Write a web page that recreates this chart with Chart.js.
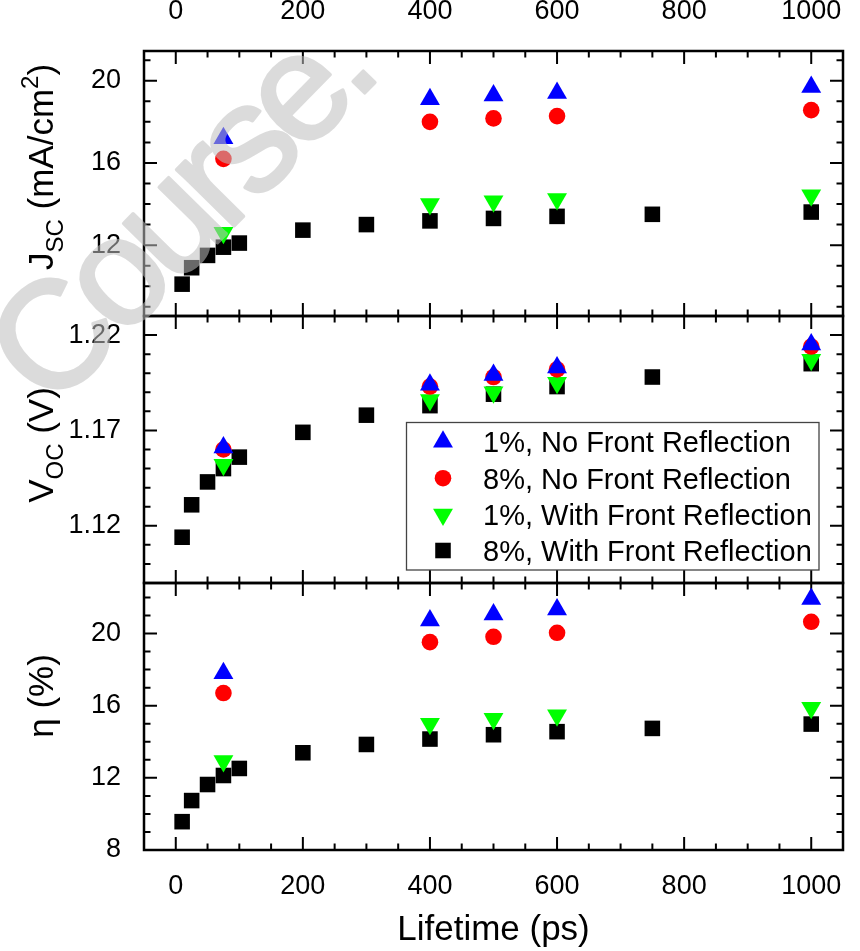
<!DOCTYPE html>
<html>
<head>
<meta charset="utf-8">
<title>Lifetime dependence</title>
<script src="https://cdn.jsdelivr.net/npm/chart.js@4.4.1/dist/chart.umd.min.js"></script>
<style>
  body { margin: 0; background: #fff; }
  #wrap { position: relative; width: 860px; height: 951px; }
  #wrap canvas { position: absolute; left: 0; top: 0; }
  #mark { opacity: 0.55; }
</style>
</head>
<body>
<div id="wrap">
  <canvas id="jscChart" width="860" height="951"></canvas>
  <canvas id="vocChart" width="860" height="951"></canvas>
  <canvas id="etaChart" width="860" height="951"></canvas>
  <canvas id="mark" width="860" height="951"></canvas>
</div>
<script>
// lifetimes (ps)
const lifeAll = [10, 25, 50, 75, 100, 200, 300, 400, 500, 600, 750, 1000];
const lifeSel = [75, 400, 500, 600, 1000];

const seriesNames = ['1%, No Front Reflection', '8%, No Front Reflection',
                     '1%, With Front Reflection', '8%, With Front Reflection'];

// Jsc (mA/cm2)
const jsc1NoFR   = [17.2, 19.1, 19.28, 19.4, 19.7];
const jsc8NoFR   = [16.2, 18.0, 18.17, 18.28, 18.57];
const jsc1WithFR = [12.6, 14.0, 14.13, 14.24, 14.43];
const jsc8WithFR = [10.1, 10.9, 11.5, 11.9, 12.1, 12.73, 13.0, 13.18, 13.3, 13.4, 13.5, 13.61];

// Voc (V)
const voc1NoFR   = [1.161, 1.194, 1.199, 1.203, 1.215];
const voc8NoFR   = [1.160, 1.193, 1.198, 1.202, 1.214];
const voc1WithFR = [1.152, 1.186, 1.190, 1.195, 1.207];
const voc8WithFR = [1.114, 1.131, 1.143, 1.150, 1.156, 1.169, 1.178, 1.183, 1.189, 1.193, 1.198, 1.205];

// efficiency (%)
const eta1NoFR   = [17.8, 20.72, 21.05, 21.33, 21.92];
const eta8NoFR   = [16.7, 19.52, 19.82, 20.04, 20.65];
const eta1WithFR = [12.93, 15.0, 15.28, 15.47, 15.89];
const eta8WithFR = [9.57, 10.74, 11.63, 12.13, 12.52, 13.39, 13.85, 14.15, 14.39, 14.56, 14.74, 14.98];

// tick labels
const xTickLabels = ['0', '200', '400', '600', '800', '1000'];
const jscTickLabels = ['12', '16', '20'];
const vocTickLabels = ['1.12', '1.17', '1.22'];
const etaTickLabels = ['8', '12', '16', '20'];

const FONT = '"Liberation Sans", Arial, Helvetica, sans-serif';
const colors = ['#0000ff', '#ff0000', '#00ff00', '#000000'];
const markers = [
  { style: 'triangle', radius: 11.5, rotation: 0 },
  { style: 'circle', radius: 8.3, rotation: 0 },
  { style: 'triangle', radius: 11.5, rotation: 180 },
  { style: 'rect', radius: 11, rotation: 0 }
];

function pts(xs, ys) {
  return ys.map((v, i) => ({ x: xs[i], y: v }));
}

function makeDatasets(series) {
  return series.map((vals, i) => ({
    label: seriesNames[i],
    data: pts(i === 3 ? lifeAll : lifeSel, vals),
    pointStyle: markers[i].style,
    pointRadius: markers[i].radius,
    pointHoverRadius: markers[i].radius,
    pointRotation: markers[i].rotation,
    backgroundColor: colors[i],
    borderColor: colors[i],
    borderWidth: 0
  }));
}

// multiples of step inside [min, max]
function stepValues(min, max, step) {
  const out = [];
  for (let k = Math.ceil(min / step - 1e-6); k * step <= max + step * 1e-6; k++) {
    out.push(+(k * step).toFixed(6));
  }
  return out;
}

// inward ticks on all four sides plus the frame and the rotated y title
function panelDecor(cfg) {
  return {
    id: 'panelDecor',
    beforeDatasetsDraw(chart) {
      const { ctx, chartArea: a, scales: { x, y } } = chart;
      const xMajor = xTickLabels.map(Number);
      const yMajor = cfg.yLabels.map(Number);
      ctx.save();
      ctx.strokeStyle = '#000';
      ctx.lineWidth = 2;
      ctx.beginPath();
      stepValues(x.min, x.max, 50).forEach(v => {
        const px = x.getPixelForValue(v);
        if (px < a.left + 2 || px > a.right - 2) return;
        const len = xMajor.some(t => Math.abs(t - v) < 1e-6) ? 13 : 6.5;
        ctx.moveTo(px, a.top); ctx.lineTo(px, a.top + len);
        ctx.moveTo(px, a.bottom); ctx.lineTo(px, a.bottom - len);
      });
      stepValues(y.min, y.max, cfg.yMinor).forEach(v => {
        const py = y.getPixelForValue(v);
        if (py < a.top + 2 || py > a.bottom - 2) return;
        const len = yMajor.some(t => Math.abs(t - v) < cfg.yMinor / 100) ? 13 : 6.5;
        ctx.moveTo(a.left, py); ctx.lineTo(a.left + len, py);
        ctx.moveTo(a.right, py); ctx.lineTo(a.right - len, py);
      });
      ctx.stroke();
      ctx.lineWidth = 2.5;
      ctx.strokeRect(a.left, a.top, a.right - a.left, a.bottom - a.top);

      // y title, written bottom to top with sub/superscripts
      const sizes = { n: 35, sub: 24, sup: 24 };
      const shift = { n: 0, sub: 10, sup: -15 };
      ctx.translate(53, cfg.titleY);
      ctx.rotate(-Math.PI / 2);
      ctx.fillStyle = '#000';
      ctx.textBaseline = 'alphabetic';
      let w = 0;
      cfg.title.forEach(([t, k]) => { ctx.font = sizes[k] + 'px ' + FONT; w += ctx.measureText(t).width; });
      let pos = -w / 2;
      cfg.title.forEach(([t, k]) => {
        ctx.font = sizes[k] + 'px ' + FONT;
        ctx.fillText(t, pos, shift[k]);
        pos += ctx.measureText(t).width;
      });
      ctx.restore();
    }
  };
}

const legendBox = {
  id: 'legendBox',
  afterDraw(chart) {
    const ctx = chart.ctx;
    const rows = [441.7, 478.2, 514.6, 550.5];
    ctx.save();
    ctx.strokeStyle = '#444';
    ctx.lineWidth = 1.3;
    ctx.strokeRect(406.5, 422.5, 412.5, 147.5);
    ctx.font = '29px ' + FONT;
    ctx.textBaseline = 'alphabetic';
    chart.data.datasets.forEach((ds, i) => {
      ctx.fillStyle = colors[i];
      ctx.strokeStyle = colors[i];
      Chart.helpers.drawPoint(ctx, {
        pointStyle: markers[i].style,
        radius: markers[i].radius,
        rotation: markers[i].rotation,
        borderWidth: 0
      }, 443, rows[i]);
      ctx.fillStyle = '#000';
      ctx.fillText(ds.label, 483, rows[i] + 10.4);
    });
    ctx.restore();
  }
};

function makePanel(cfg) {
  const xOpts = {
    type: 'linear',
    min: -50,
    max: 1050,
    display: !!cfg.xPos,
    position: cfg.xPos || 'bottom',
    grid: { display: false },
    border: { display: false },
    afterBuildTicks: s => { s.ticks = xTickLabels.map(v => ({ value: Number(v) })); },
    afterFit: s => { if (cfg.xHeight) s.height = cfg.xHeight; },
    ticks: {
      font: { size: 27, family: FONT },
      color: '#000',
      padding: cfg.xPos === 'top' ? 15 : 12,
      maxRotation: 0,
      autoSkip: false,
      callback: (v, i) => xTickLabels[i]
    },
    title: {
      display: !!cfg.xTitle,
      text: cfg.xTitle || '',
      font: { size: 35, family: FONT },
      color: '#000',
      padding: { top: 0, bottom: 0 }
    }
  };
  return new Chart(document.getElementById(cfg.id), {
    type: 'scatter',
    data: { datasets: makeDatasets(cfg.series) },
    options: {
      responsive: false,
      animation: false,
      devicePixelRatio: 1,
      layout: { padding: { top: cfg.padTop, bottom: cfg.padBottom, left: 0, right: 17 } },
      plugins: { legend: { display: false }, tooltip: { enabled: false } },
      scales: {
        x: xOpts,
        y: {
          type: 'linear',
          min: cfg.yMin,
          max: cfg.yMax,
          grid: { display: false },
          border: { display: false },
          afterBuildTicks: s => { s.ticks = cfg.yLabels.map(v => ({ value: Number(v) })); },
          afterFit: s => { s.width = 144; },
          ticks: {
            font: { size: 27, family: FONT },
            color: '#000',
            padding: 15,
            callback: (v, i) => cfg.yLabels[i]
          }
        }
      }
    },
    plugins: [panelDecor(cfg)].concat(cfg.legend ? [legendBox] : [])
  });
}

makePanel({
  id: 'jscChart', series: [jsc1NoFR, jsc8NoFR, jsc1WithFR, jsc8WithFR],
  yMin: 8.55, yMax: 21.45, yMinor: 1, yLabels: jscTickLabels,
  xPos: 'top', xHeight: 51, padTop: 0, padBottom: 635,
  title: [['J', 'n'], ['SC', 'sub'], [' (mA/cm', 'n'], ['2', 'sup'], [')', 'n']], titleY: 167
});

makePanel({
  id: 'vocChart', series: [voc1NoFR, voc8NoFR, voc1WithFR, voc8WithFR],
  yMin: 1.09, yMax: 1.23, yMinor: 0.01, yLabels: vocTickLabels,
  padTop: 316, padBottom: 368, legend: true,
  title: [['V', 'n'], ['OC', 'sub'], [' (V)', 'n']], titleY: 445
});

makePanel({
  id: 'etaChart', series: [eta1NoFR, eta8NoFR, eta1WithFR, eta8WithFR],
  yMin: 8, yMax: 22.8, yMinor: 1, yLabels: etaTickLabels,
  xPos: 'bottom', xHeight: 101, xTitle: 'Lifetime (ps)', padTop: 583, padBottom: 0,
  title: [['\u03b7 (%)', 'n']], titleY: 696
});

// faint diagonal watermark lettering laid over the figure,
// drawn letter by letter so the spacing can be tightened
const mctx = document.getElementById('mark').getContext('2d');
mctx.save();
mctx.translate(51, 412);
mctx.rotate(-45.5 * Math.PI / 180);
mctx.font = '152px ' + FONT;
mctx.fillStyle = '#bfbfbf';
mctx.strokeStyle = '#bfbfbf';
mctx.lineWidth = 3.5;
mctx.lineJoin = 'round';
let penX = 0;
for (const ch of 'Course.') {
  mctx.fillText(ch, penX, 0);
  mctx.strokeText(ch, penX, 0);
  penX += mctx.measureText(ch).width - 9.4;
}
mctx.restore();
</script>
</body>
</html>
